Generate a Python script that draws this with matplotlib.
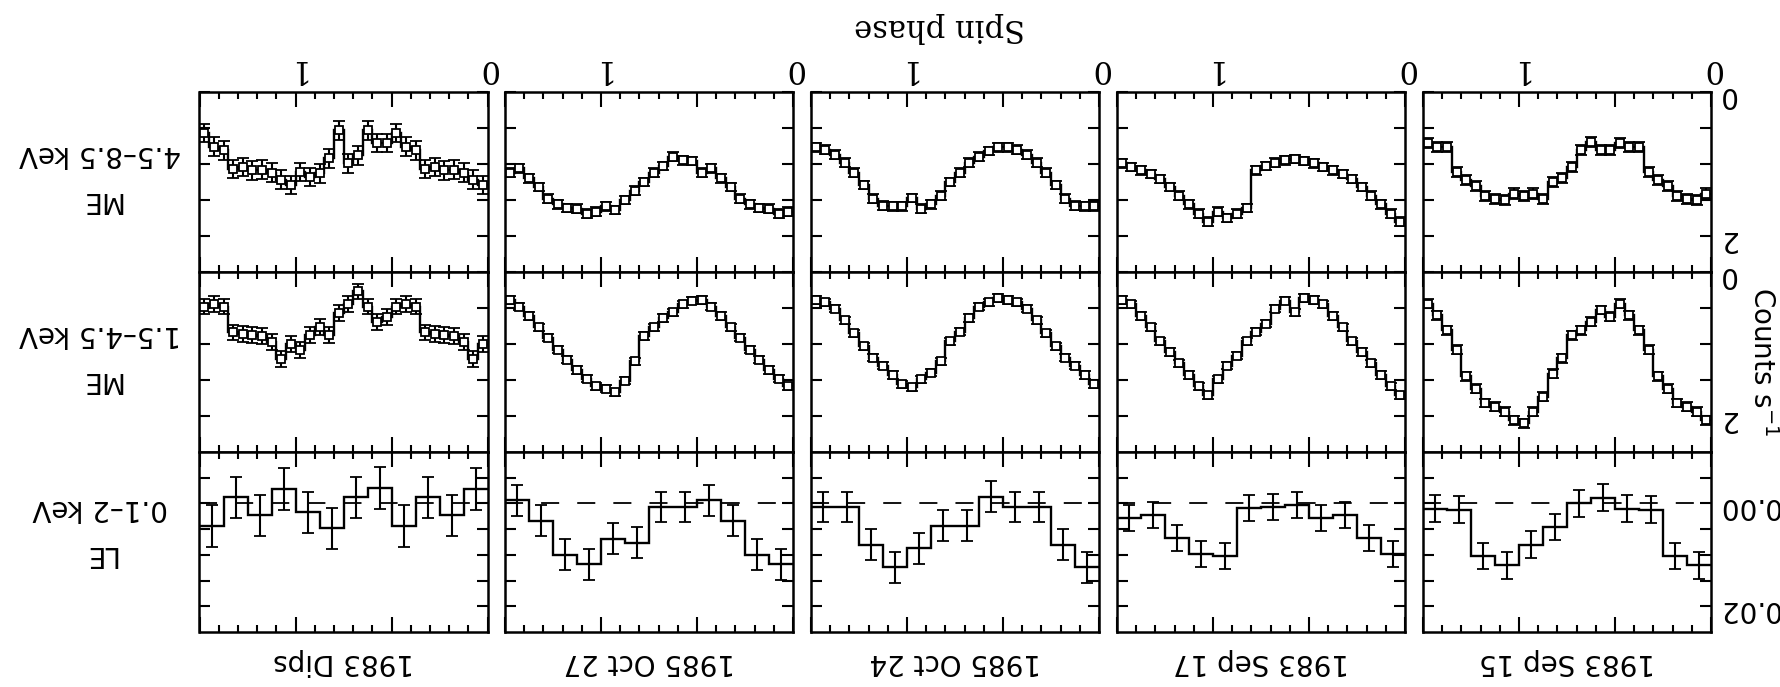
import numpy as np
import matplotlib.pyplot as plt
from matplotlib.ticker import FixedLocator, FixedFormatter, MultipleLocator

# the whole figure is shown rotated by 180 degrees, as in the reference scan

dates = ['1983 Sep 15', '1983 Sep 17', '1985 Oct 24', '1985 Oct 27', '1983 Dips']
band_labels = ['ME\n4.5–8.5 keV', 'ME\n1.5–4.5 keV', 'LE\n0.1–2 keV']

# ME 4.5-8.5 keV, counts/s in 20 spin phase bins (one cycle)
hard_sep15 = [1.41, 1.50, 1.48, 1.45, 1.31, 1.22, 1.11, 0.76, 0.76, 0.71,
              0.81, 0.81, 0.69, 0.81, 1.04, 1.20, 1.25, 1.48, 1.41, 1.45]
hard_sep17 = [1.80, 1.69, 1.56, 1.44, 1.32, 1.21, 1.14, 1.09, 1.04, 0.99,
              0.96, 0.93, 0.95, 0.98, 1.03, 1.09, 1.61, 1.69, 1.75, 1.66]
hard_oct24 = [1.59, 1.59, 1.58, 1.48, 1.29, 1.12, 0.98, 0.87, 0.80, 0.77,
              0.77, 0.82, 0.90, 0.98, 1.12, 1.25, 1.44, 1.56, 1.62, 1.47]
hard_oct27 = [1.66, 1.69, 1.62, 1.61, 1.56, 1.48, 1.32, 1.20, 1.06, 1.12,
              0.96, 0.95, 0.90, 1.03, 1.12, 1.25, 1.37, 1.50, 1.64, 1.59]
hard_dips = [1.29, 1.22, 1.12, 1.08, 1.09, 1.04, 1.07, 0.81, 0.76, 0.57,
             0.71, 0.71, 0.53, 0.88, 0.99, 0.53, 0.92, 1.13, 1.18, 1.11]

# ME 1.5-4.5 keV
soft_sep15 = [2.06, 1.94, 1.87, 1.82, 1.62, 1.45, 1.08, 0.81, 0.60, 0.44,
              0.62, 0.53, 0.69, 0.81, 0.88, 1.20, 1.41, 1.73, 1.94, 2.10]
soft_sep17 = [1.71, 1.59, 1.43, 1.27, 1.11, 0.96, 0.77, 0.61, 0.45, 0.39,
              0.36, 0.56, 0.40, 0.51, 0.72, 0.83, 0.96, 1.16, 1.30, 1.49]
soft_oct24 = [1.56, 1.43, 1.30, 1.19, 1.03, 0.85, 0.67, 0.51, 0.42, 0.39,
              0.36, 0.42, 0.48, 0.64, 0.83, 0.96, 1.24, 1.40, 1.49, 1.60]
soft_oct27 = [1.59, 1.48, 1.36, 1.22, 1.08, 0.91, 0.77, 0.61, 0.48, 0.39,
              0.40, 0.45, 0.56, 0.64, 0.77, 0.89, 1.24, 1.51, 1.67, 1.62]
soft_dips = [1.00, 1.21, 0.97, 0.89, 0.88, 0.86, 0.84, 0.48, 0.44, 0.48,
             0.62, 0.69, 0.48, 0.27, 0.44, 0.57, 0.88, 0.76, 0.88, 1.08]

# LE 0.1-2 keV, 8 phase bins
le_sep15 = [0.0120, 0.0102, 0.0012, 0.0010, -0.0011, 0.0000, 0.0046, 0.0080]
le_sep17 = [0.0098, 0.0067, 0.0023, 0.0029, 0.0003, 0.0007, 0.0009, 0.0102]
le_oct24 = [0.0124, 0.0080, 0.0007, 0.0007, -0.0013, 0.0043, 0.0043, 0.0087]
le_oct27 = [0.0118, 0.0100, 0.0034, -0.0006, 0.0007, 0.0007, 0.0076, 0.0069]
le_dips = [-0.0028, 0.0023, -0.0012, 0.0044, -0.0030, -0.0012, 0.0048, 0.0017]

# typical 1-sigma errors per observation
hard_err = [0.07, 0.06, 0.06, 0.06, 0.13]
soft_err = [0.06, 0.05, 0.05, 0.05, 0.11]
le_err = [0.0026, 0.0025, 0.0030, 0.0030, 0.0040]

hard = [hard_sep15, hard_sep17, hard_oct24, hard_oct27, hard_dips]
soft = [soft_sep15, soft_sep17, soft_oct24, soft_oct27, soft_dips]
le = [le_sep15, le_sep17, le_oct24, le_oct27, le_dips]

W, H = 1781, 687
fig = plt.figure(figsize=(W / 100, H / 100), dpi=100)

col_left = [1423, 1117, 811, 505, 199.5]   # pixels, Sep 15 is rightmost
row_top = [92, 272, 452]
pw, ph = 288, 180


def draw(ax, vals, err, markers):
    v = np.asarray(vals, dtype=float)
    n = len(v)
    v = np.concatenate([v, v[:n // 2]])     # 1.5 cycles
    edges = np.linspace(0, 1.5, len(v) + 1)
    centers = 0.5 * (edges[:-1] + edges[1:])
    ax.stairs(v, edges, baseline=None, color='k', lw=1.7)
    ax.errorbar(centers, v, yerr=err, fmt='s' if markers else 'none',
                ms=5.5, mfc='white', mec='k', mew=1.3, ecolor='k',
                elinewidth=1.5, capsize=4.5, capthick=1.5, zorder=3)


for c in range(5):
    for r in range(3):
        ax = fig.add_axes([col_left[c] / W, 1 - (row_top[r] + ph) / H, pw / W, ph / H])
        for s in ax.spines.values():
            s.set_linewidth(1.8)
        ax.set_xlim(1.5, 0)
        ax.xaxis.set_major_locator(FixedLocator([0, 0.5, 1, 1.5]))
        ax.xaxis.set_major_formatter(FixedFormatter(['0', '', '1', '']))
        ax.xaxis.set_minor_locator(MultipleLocator(0.1))
        ax.tick_params(which='both', direction='in', top=True, bottom=True,
                       left=True, right=True, width=1.5)
        ax.tick_params(axis='x', which='major', length=11)
        ax.tick_params(axis='x', which='minor', length=5)
        ax.tick_params(axis='y', which='major', length=8)
        ax.tick_params(axis='x', labelbottom=False, labeltop=(r == 0), pad=6,
                       labelsize=22, labelrotation=180, labelfontfamily='DejaVu Serif')
        ax.tick_params(axis='y', labelleft=False, labelright=(c == 0), pad=5,
                       labelsize=20, labelrotation=180)

        if r < 2:
            data = hard if r == 0 else soft
            errs = hard_err if r == 0 else soft_err
            draw(ax, data[c], errs[c], True)
            ax.set_ylim(2.5, 0)
            ax.yaxis.set_major_locator(FixedLocator([0, 0.5, 1, 1.5, 2]))
            ax.yaxis.set_major_formatter(FixedFormatter(['0', '', '', '', '2']))
        else:
            ax.axhline(0, color='k', lw=1.3, dashes=(10, 10))
            draw(ax, le[c], le_err[c], False)
            ax.set_ylim(0.025, -0.01)
            ax.yaxis.set_major_locator(FixedLocator([-0.005, 0, 0.005, 0.01, 0.015, 0.02]))
            ax.yaxis.set_major_formatter(FixedFormatter(['', '0.00', '', '', '', '0.02']))

    fig.text((col_left[c] + pw / 2) / W, 1 - 662 / H, dates[c], rotation=180,
             ha='center', va='center', fontsize=20)

for r, yc in enumerate([177, 357, 531]):
    fig.text(100 / W, 1 - yc / H, band_labels[r], rotation=180, ha='center',
             va='center', fontsize=20, linespacing=1.8, multialignment='center')

fig.text(940 / W, 1 - 27 / H, 'Spin phase', rotation=180, ha='center', va='center',
         fontsize=22, fontfamily='DejaVu Serif')
fig.text(1762 / W, 1 - 362 / H, 'Counts s$^{-1}$', rotation=270, ha='center',
         va='center', fontsize=20)

fig.savefig('out.png', dpi=100)
